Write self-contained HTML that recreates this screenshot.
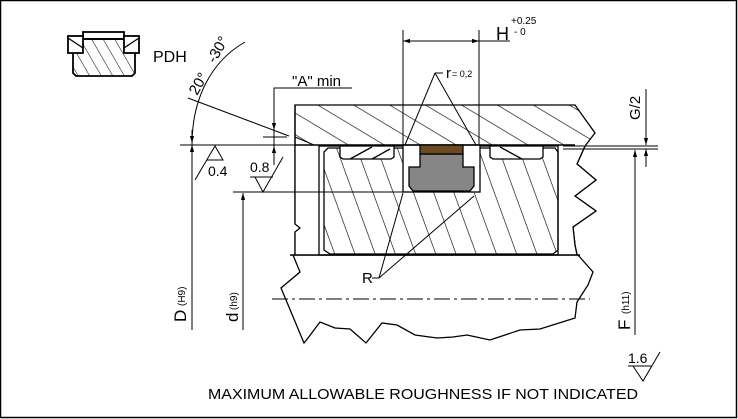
<!DOCTYPE html>
<html><head><meta charset="utf-8"><style>
html,body{margin:0;padding:0;background:#fff}
svg{display:block}
text{font-family:"Liberation Sans",sans-serif;fill:#000}
</style></head><body>
<svg width="738" height="419" viewBox="0 0 738 419" xmlns="http://www.w3.org/2000/svg">
<defs>
<pattern id="hh" width="18.5" height="18.5" patternUnits="userSpaceOnUse" patternTransform="rotate(31)">
<line x1="0" y1="0" x2="40" y2="0" stroke="#000" stroke-width="1.2"/></pattern>
<pattern id="hp" width="19" height="19" patternUnits="userSpaceOnUse" patternTransform="rotate(70)">
<line x1="0" y1="0" x2="40" y2="0" stroke="#000" stroke-width="1.2"/></pattern>
<pattern id="hs" width="10" height="10" patternUnits="userSpaceOnUse" patternTransform="rotate(60)">
<line x1="0" y1="0" x2="20" y2="0" stroke="#000" stroke-width="1"/></pattern>
<marker id="ar" viewBox="0 0 10 10" refX="10" refY="5" markerWidth="7" markerHeight="7" orient="auto-start-reverse"><path d="M0,2 L10,5 L0,8 z" fill="#000"/></marker>
</defs>
<rect x="0.5" y="0.5" width="736" height="417" fill="#fff" stroke="#000" stroke-width="1.5"/>
<g fill="none" stroke="#000" stroke-width="1.3">
<rect x="83" y="32" width="41" height="7" stroke-width="1.8"/>
<path d="M73,39 H135 V73 L132,76 H76 L73,73 Z" fill="url(#hs)" stroke-width="1.8"/>
<rect x="68" y="36" width="15" height="17" fill="#fff" stroke-width="1.8"/>
<rect x="124" y="36" width="15" height="17" fill="#fff" stroke-width="1.8"/>
<line x1="68" y1="38" x2="83" y2="48" /><line x1="124" y1="48" x2="139" y2="38"/>
<path d="M295,105 H575 L595,133 L585,146 L577,164 L596,180 L575,196 L596,211 L573,227 L575,245 L577,255 H295 V232 L300,228 L295,224 Z" fill="url(#hh)"/>
<path d="M319,145 H585 L577,164 L596,180 L575,196 L596,211 L573,227 L575,245 L577,255 H319 Z" fill="#fff" stroke="none"/>
<path d="M295,145 H319 V255 H295 Z" fill="#fff" stroke="none"/>
<path d="M295,105 V224 L300,228 L295,232 V255"/>
<path d="M585,146 L577,164 L596,180 L575,196 L596,211 L573,227 L575,245 L577,255"/>
<rect x="319" y="146" width="239" height="109"/>
<path d="M328,148 H555 L558,152 V250 L553,254 H330 L324,250 V152 Z" fill="url(#hp)"/>
<path d="M340,146 V157 L343,159 H391 L394,157 V146 Z" fill="#fff"/>
<path d="M490,146 V157 L493,159 H540 L543,157 V146 Z" fill="#fff"/>
<line x1="350" y1="159" x2="372" y2="147"/><line x1="372" y1="159" x2="390" y2="149"/>
<line x1="500" y1="147" x2="522" y2="159"/>
<rect x="403" y="145" width="77" height="47" fill="#fff"/>
<line x1="295" y1="145" x2="575" y2="145" stroke-width="1.6"/>
<path d="M420,154 H463 V167 H474 V186 L470,191 H413 L409,186 V167 H420 Z" fill="#868686"/>
<rect x="420" y="145" width="43" height="9" fill="#6b4c22"/>
<path d="M293,255 L300,272 L281,288 L304,343 L308,338 L320,322 L335,328 L350,329 L366,343 L382,323 L397,325 L415,335 L437,338 L453,337 L467,335 L490,340 L520,330 L540,329 L575,318 L577,302 L588,285 L593,272 L578,255" />
<line x1="290" y1="255" x2="580" y2="255" stroke-width="1.6"/>
<line x1="272" y1="299" x2="590" y2="299" stroke-width="1" stroke-dasharray="16,4,3,4"/>
<line x1="180" y1="145" x2="295" y2="145" stroke-width="1"/>
<line x1="563" y1="146" x2="658" y2="146" stroke-width="1"/>
<line x1="563" y1="149" x2="658" y2="149" stroke-width="1"/>
<line x1="233" y1="192" x2="403" y2="192" stroke-width="1"/>
<line x1="192" y1="145" x2="192" y2="330" stroke-width="1" marker-start="url(#ar)"/>
<line x1="243" y1="193" x2="243" y2="330" stroke-width="1" marker-start="url(#ar)"/>
<line x1="635" y1="150" x2="635" y2="335" stroke-width="1" marker-start="url(#ar)"/>
<line x1="646" y1="89" x2="646" y2="145" stroke-width="1" marker-end="url(#ar)"/>
<line x1="646" y1="167" x2="646" y2="149" stroke-width="1" marker-end="url(#ar)"/>
<line x1="403" y1="30" x2="403" y2="145" stroke-width="1"/>
<line x1="479" y1="30" x2="479" y2="145" stroke-width="1"/>
<line x1="403" y1="41" x2="479" y2="41" stroke-width="1" marker-start="url(#ar)" marker-end="url(#ar)"/>
<line x1="479" y1="41" x2="510" y2="41" stroke-width="1"/>
<path d="M443,73 H435 L405,145 M435,73 L476,145" stroke-width="1"/>
<path d="M372,278 H379 L403,193 M379,278 L474,196" stroke-width="1"/>
<path d="M352,88 H274 V165" stroke-width="1"/>
<line x1="274" y1="112" x2="274" y2="130" stroke-width="1" marker-end="url(#ar)"/>
<line x1="274" y1="165" x2="274" y2="146" stroke-width="1" marker-end="url(#ar)"/>
<line x1="263" y1="137" x2="287" y2="137" stroke-width="1"/>
<line x1="188" y1="98" x2="289" y2="136" stroke-width="1"/>
<line x1="295" y1="137" x2="314" y2="145" stroke-width="1"/>
<path d="M192,145 C192,100 210,62 245,42" stroke-width="1"/>
<line x1="192" y1="130" x2="192" y2="143" stroke-width="1" marker-end="url(#ar)"/>
<path d="M195,180 L215,146 L223,160 H207" stroke-width="1"/>
<path d="M250,177 H273 M255,177 L263,192 L283,157" stroke-width="1"/>
<path d="M628,366 H652 M633,366 L643,381 L660,352" stroke-width="1"/>
</g>
<text x="153" y="62" font-size="16">PDH</text>
<text x="292" y="86" font-size="15">"A" min</text>
<text x="197" y="96" font-size="15" transform="rotate(-60 197 96)">20°</text>
<text x="215" y="64" font-size="15" transform="rotate(-60 215 64)">-30°</text>
<text x="208" y="176" font-size="14">0.4</text>
<text x="250" y="172" font-size="14">0.8</text>
<text x="628" y="363" font-size="14">1.6</text>
<text x="496" y="40" font-size="18">H</text>
<text x="511" y="24" font-size="10">+0.25</text>
<text x="514" y="35" font-size="10">- 0</text>
<text x="446" y="78" font-size="15">r</text><text x="452" y="77" font-size="9">= 0,2</text>
<text x="362" y="283" font-size="15">R</text>
<text x="640" y="120" font-size="15" transform="rotate(-90 640 120)">G/2</text>
<text x="186" y="322" font-size="17" transform="rotate(-90 186 322)">D</text>
<text x="185" y="306" font-size="10" transform="rotate(-90 185 306)">(H9)</text>
<text x="238" y="322" font-size="17" transform="rotate(-90 238 322)">d</text>
<text x="237" y="310" font-size="10" transform="rotate(-90 237 310)">(h9)</text>
<text x="630" y="330" font-size="17" transform="rotate(-90 630 330)">F</text>
<text x="629" y="314" font-size="10" transform="rotate(-90 629 314)">(h11)</text>
<text x="208" y="399" font-size="14.5" textLength="430" lengthAdjust="spacingAndGlyphs">MAXIMUM ALLOWABLE ROUGHNESS IF NOT INDICATED</text>
</svg>
</body></html>
